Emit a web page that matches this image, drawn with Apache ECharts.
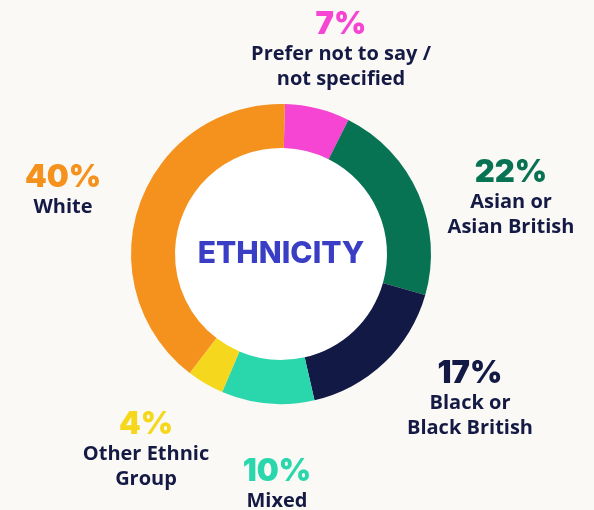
<!DOCTYPE html>
<html>
<head>
<meta charset="utf-8">
<script src="https://cdn.jsdelivr.net/npm/echarts@6/dist/echarts.min.js"></script>
<style>
html,body{margin:0;padding:0;background:#faf9f5;}
#c{width:594px;height:510px;}
</style>
</head>
<body>
<div id="c"></div>
<script>
const categories = ["Prefer not to say /\nnot specified", "Asian or\nAsian British", "Black or\nBlack British", "Mixed", "Other Ethnic\nGroup", "White"];
const percentages = [7, 22, 17, 10, 4, 40];
const colors = ["#f545d2", "#087352", "#121944", "#2ad6ab", "#f5d81e", "#f5921e"];
const centerTitle = "ETHNICITY";
// label block centres (layout, not data)
const labelPos = [[341, 50], [511, 198], [470, 399], [277, 484], [146, 450], [63, 190]];

const chart = echarts.init(document.getElementById('c'), null, {renderer: 'canvas'});
const option = {
  backgroundColor: '#faf9f5',
  animation: false,
  series: [
    {
      type: 'pie',
      center: [281, 254],
      radius: [0, 106],
      silent: true,
      data: [{value: 1, name: centerTitle, itemStyle: {color: '#ffffff'}}],
      label: {
        show: true, position: 'center',
        formatter: '{b}',
        color: '#3a3ec4', fontFamily: 'Inter', fontWeight: 800, fontSize: 30
      },
      labelLine: {show: false}
    },
    {
      type: 'pie',
      center: [281, 254],
      radius: [106, 150],
      startAngle: 88.5,
      clockwise: true,
      silent: true,
      data: categories.map((c, i) => ({value: percentages[i], name: c, itemStyle: {color: colors[i]}})),
      label: {
        show: true,
        position: 'outside',
        alignTo: 'none',
        overflow: 'none',
        width: 300,
        formatter: p => '{p' + p.dataIndex + '|' + p.value + '%}\n{n|' + p.name + '}',
        rich: Object.assign({
          n: {color: '#151a45', fontFamily: 'Open Sans', fontWeight: 700, fontSize: 20, lineHeight: 25, align: 'center'}
        }, ...colors.map((col, i) => ({['p' + i]: {color: col, fontFamily: 'Inter', fontWeight: 900, fontSize: 31, lineHeight: 34, align: 'center'}})))
      },
      labelLine: {show: false},
      labelLayout: p => ({x: labelPos[p.dataIndex][0], y: labelPos[p.dataIndex][1], align: 'center', verticalAlign: 'middle'})
    }
  ]
};
chart.setOption(option);
</script>
</body>
</html>
